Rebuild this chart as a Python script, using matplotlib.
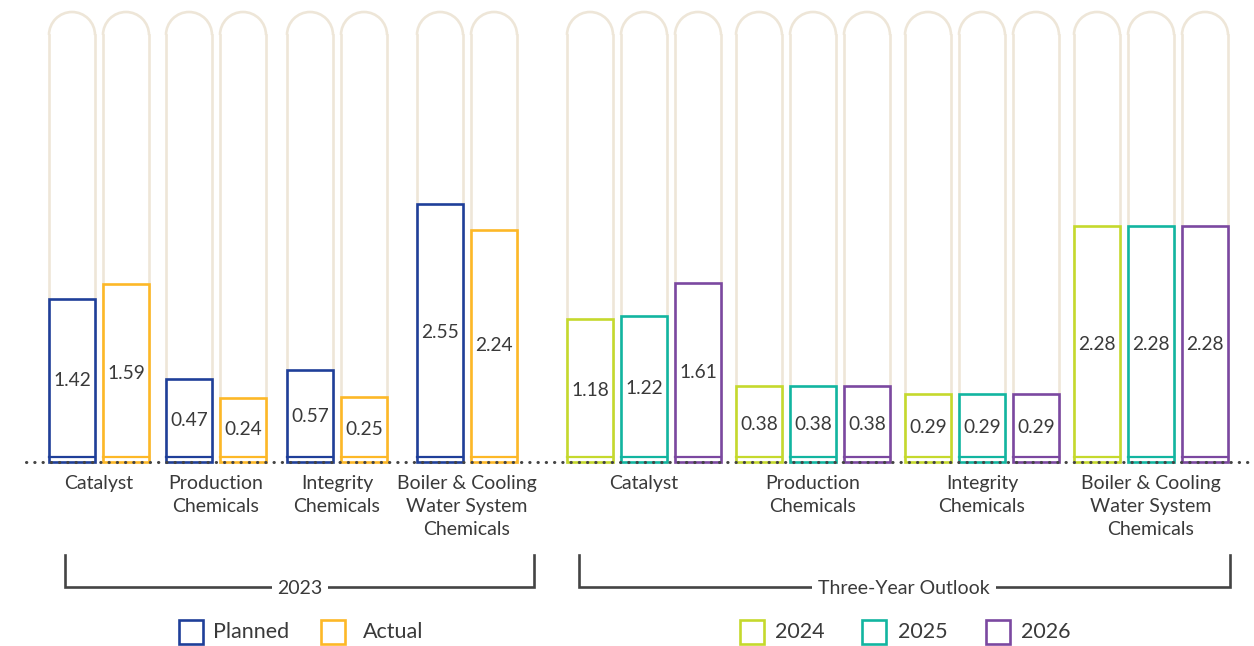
import numpy as np
import matplotlib
matplotlib.use("Agg")
from matplotlib import pyplot as plt
from matplotlib.patches import Arc, Rectangle

# data
categories = ["Catalyst", "Production\nChemicals", "Integrity\nChemicals",
              "Boiler & Cooling\nWater System\nChemicals"]
planned_2023 = [1.42, 0.47, 0.57, 2.55]
actual_2023 = [1.59, 0.24, 0.25, 2.24]
outlook_2024 = [1.18, 0.38, 0.29, 2.28]
outlook_2025 = [1.22, 0.38, 0.29, 2.28]
outlook_2026 = [1.61, 0.38, 0.29, 2.28]

left_series = [("Planned", planned_2023, "#1f3f99"), ("Actual", actual_2023, "#fdb827")]
right_series = [("2024", outlook_2024, "#c5d92d"), ("2025", outlook_2025, "#12b5a0"),
                ("2026", outlook_2026, "#7b48a0")]

plt.rcParams['font.family'] = ['Lato', 'DejaVu Sans']
TXT = "#3a3a3a"
PILL = "#eee6d8"

W, H = 1254, 646
fig = plt.figure(figsize=(W / 100, H / 100), dpi=100)

# pixel-space axes for decoration
deco = fig.add_axes([0, 0, 1, 1])
deco.set_xlim(0, W)
deco.set_ylim(H, 0)
deco.axis("off")

# value axes for bars (stylised: bars start a bit below zero)
S = 84.0       # px per unit
A = 44.0       # px offset
BASE = A / S
base_px = 462
zero_px = base_px - A
ax = fig.add_axes([0, 0, 1, 1])
ax.set_xlim(0, W)
ax.set_ylim(-(H - zero_px) / S, zero_px / S)
ax.axis("off")
ax.patch.set_alpha(0)

bw = 46
pitch = 54
left_centers = [99, 216, 337, 467]
right_centers = [644, 813, 982, 1151]
pill_top = 12


def draw_group(centers, series):
    n = len(series)
    offs = (np.arange(n) - (n - 1) / 2) * pitch
    for j, (name, vals, col) in enumerate(series):
        xs = np.array(centers) + offs[j]
        # background pills
        for x in xs:
            r = bw / 2
            deco.plot([x - r, x - r], [base_px, pill_top + r], color=PILL, lw=1.9, zorder=1)
            deco.plot([x + r, x + r], [base_px, pill_top + r], color=PILL, lw=1.9, zorder=1)
            deco.add_patch(Arc((x, pill_top + r), bw, bw, theta1=180, theta2=360,
                               color=PILL, lw=1.9, zorder=1))
        v = np.array(vals)
        ax.bar(xs, v + BASE, bottom=-BASE, width=bw, facecolor="white",
               edgecolor=col, lw=1.9, zorder=3)
        for x, val in zip(xs, v):
            ax.plot([x - bw / 2, x + bw / 2], [-BASE + 5 / S] * 2, color=col, lw=1.6, zorder=4)
            ax.text(x, (val - BASE) / 2, f"{val:.2f}", ha="center", va="center",
                    fontsize=13.8, color=TXT, zorder=5)


draw_group(left_centers, left_series)
draw_group(right_centers, right_series)

# dotted baseline
ax.plot([26, W], [-BASE, -BASE], color="#444444", lw=2.2, linestyle=(0, (0.1, 2.6)),
        dash_capstyle="round", zorder=6)

# category labels
for c, lab in zip(left_centers + right_centers, categories + categories):
    deco.text(c, 475, lab, ha="center", va="top", fontsize=14, color=TXT,
              linespacing=1.42)

# brackets
def bracket(x0, x1, label, xt):
    deco.plot([x0, x0, x1, x1], [555, 587, 587, 555], color="#444444", lw=1.9,
              solid_joinstyle="miter", zorder=2)
    deco.text(xt, 589, label, ha="center", va="center", fontsize=14, color=TXT,
              bbox=dict(facecolor="white", edgecolor="none", pad=4), zorder=3)


bracket(65, 534, "2023", 300)
bracket(579, 1230, "Three-Year Outlook", 904)

# legends
def legend_item(xs, label, col, xt):
    deco.add_patch(Rectangle((xs, 620), 24, 24, facecolor="white", edgecolor=col, lw=1.9))
    deco.text(xt, 632, label, ha="left", va="center", fontsize=15.5, color=TXT)


legend_item(179, "Planned", left_series[0][2], 213)
legend_item(321, "Actual", left_series[1][2], 363)
legend_item(740, "2024", right_series[0][2], 775)
legend_item(862, "2025", right_series[1][2], 898)
legend_item(986, "2026", right_series[2][2], 1021)

fig.savefig("out.png", dpi=100, facecolor="white")
